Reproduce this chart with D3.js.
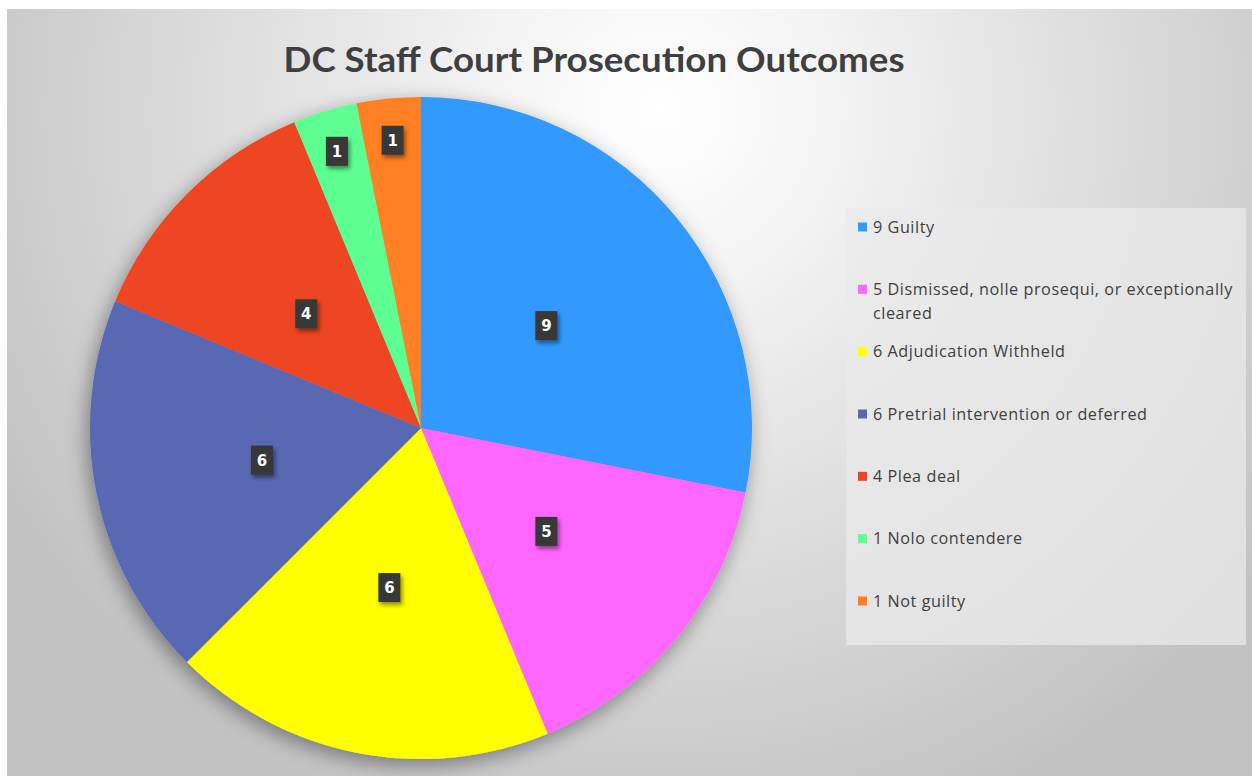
<!DOCTYPE html>
<html><head><meta charset="utf-8">
<script src="https://cdn.jsdelivr.net/npm/d3@7"></script>
<style>html,body{margin:0;padding:0;background:#fff;}svg{display:block;}</style>
</head><body>
<svg id="chart" width="1252" height="776"></svg>
<script>
const title = "DC Staff Court Prosecution Outcomes";
const categories = ["Guilty", "Dismissed, nolle prosequi, or exceptionally cleared", "Adjudication Withheld", "Pretrial intervention or deferred", "Plea deal", "Nolo contendere", "Not guilty"];
const values = [9, 5, 6, 6, 4, 1, 1];
const colors = ["#3399ff", "#ff66ff", "#ffff00", "#5867b2", "#ee4422", "#5cff90", "#ff8022"];
const legendLines = [["9 Guilty"], ["5 Dismissed, nolle prosequi, or exceptionally", "cleared"], ["6 Adjudication Withheld"], ["6 Pretrial intervention or deferred"], ["4 Plea deal"], ["1 Nolo contendere"], ["1 Not guilty"]];

const svg = d3.select("#chart");
const W = 1252, H = 776;
const defs = svg.append("defs");
const rg = defs.append("radialGradient").attr("id","bg").attr("gradientUnits","userSpaceOnUse")
  .attr("cx",660).attr("cy",110).attr("r",760);
rg.append("stop").attr("offset","0").attr("stop-color","#ffffff");
rg.append("stop").attr("offset","0.2").attr("stop-color","#f5f5f5");
rg.append("stop").attr("offset","1").attr("stop-color","#c2c2c2");
const sh = defs.append("filter").attr("id","pieShadow").attr("x","-20%").attr("y","-20%").attr("width","140%").attr("height","140%");
sh.append("feDropShadow").attr("dx",-3).attr("dy",6).attr("stdDeviation",10).attr("flood-color","#000").attr("flood-opacity",0.4);
const ls = defs.append("filter").attr("id","lblShadow").attr("x","-50%").attr("y","-50%").attr("width","200%").attr("height","200%");
ls.append("feDropShadow").attr("dx",2).attr("dy",3).attr("stdDeviation",2).attr("flood-color","#000").attr("flood-opacity",0.45);

svg.append("rect").attr("x",7).attr("y",9).attr("width",W-7).attr("height",H-9).attr("fill","url(#bg)");

// title
svg.append("text").attr("x",594).attr("y",72).attr("text-anchor","middle")
  .attr("font-family","Lato, 'Open Sans', sans-serif").attr("font-weight","bold")
  .attr("font-size",34).attr("fill","#3f3f3f").attr("textLength",621).attr("lengthAdjust","spacingAndGlyphs")
  .text(title);

// pie
const cx = 421, cy = 428, R = 331;
const pie = d3.pie().sort(null).value(d => d)(values);
const arc = d3.arc().innerRadius(0).outerRadius(R);
const g = svg.append("g").attr("transform",`translate(${cx},${cy})`);
g.append("g").attr("filter","url(#pieShadow)").selectAll("path").data(pie).join("path")
  .attr("d",arc).attr("fill",(d,i)=>colors[i]);

// labels
const total = d3.sum(values);
const lblArcIn = d3.arc().innerRadius(R*0.49).outerRadius(R*0.49);
const lblArcOut = d3.arc().innerRadius(R*0.875).outerRadius(R*0.875);
const lg = g.selectAll("g.lbl").data(pie).join("g").attr("class","lbl")
  .attr("transform",d=>{const c=(d.value/total<0.05?lblArcOut:lblArcIn).centroid(d);return `translate(${c[0]},${c[1]})`;});
lg.append("rect").attr("x",-11).attr("y",-14).attr("width",22).attr("height",29).attr("fill","#383838").attr("filter","url(#lblShadow)");
lg.append("text").attr("text-anchor","middle").attr("y",6).attr("font-family","'DejaVu Sans', sans-serif")
  .attr("font-weight","bold").attr("font-size",15).attr("fill","#fff").text(d=>d.value);

// legend
svg.append("rect").attr("x",846).attr("y",208).attr("width",400).attr("height",437).attr("fill","#e9e9e9").attr("fill-opacity",0.75);
const legY = d3.scalePoint().domain(d3.range(categories.length)).range([227,601]);
const leg = svg.selectAll("g.leg").data(categories).join("g").attr("class","leg")
  .attr("transform",(d,i)=>`translate(858,${legY(i)})`);
leg.append("rect").attr("x",0).attr("y",-4.5).attr("width",9).attr("height",9).attr("fill",(d,i)=>colors[i]);
leg.each(function(d,i){
  const t = d3.select(this).append("text").attr("x",15).attr("y",5.5)
    .attr("font-family","'Open Sans', sans-serif").attr("font-size",16.2).attr("letter-spacing",0.55).attr("fill","#404040");
  legendLines[i].forEach((ln,j)=>{ t.append("tspan").attr("x",15).attr("dy",j?24:0).text(ln); });
});
</script>
</body></html>
